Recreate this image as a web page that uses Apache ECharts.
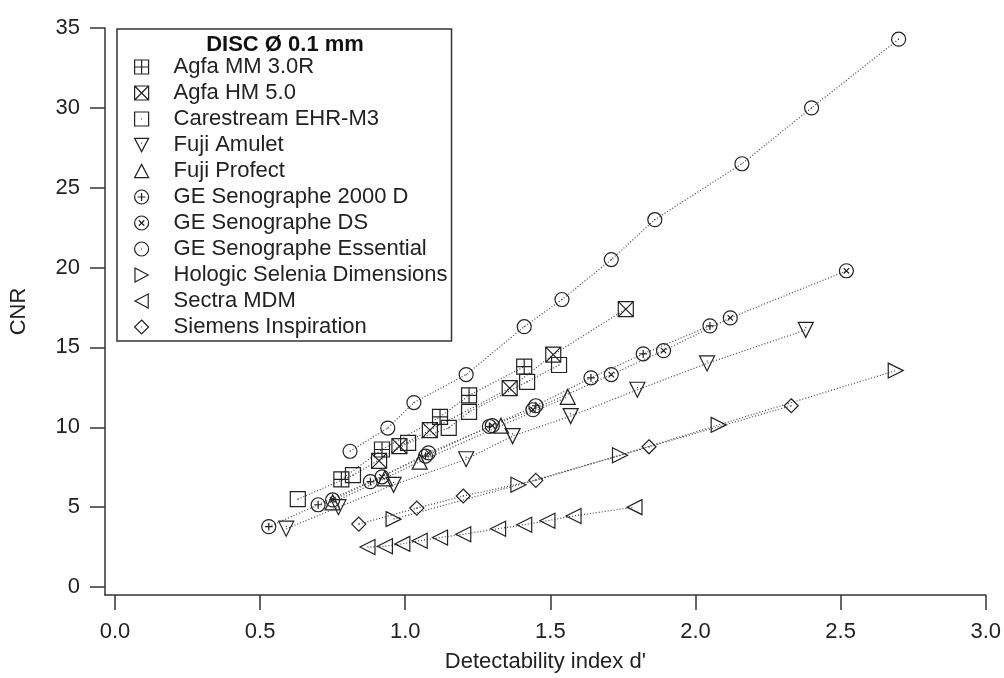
<!DOCTYPE html>
<html>
<head>
<meta charset="utf-8">
<title>CNR vs detectability index</title>
<script src="https://cdn.jsdelivr.net/npm/echarts@6/dist/echarts.min.js"></script>
<style>
  html, body { margin: 0; padding: 0; background: #fff; }
  #main { width: 1004px; height: 678px; }
</style>
</head>
<body>
<div id="main"></div>
<script>
// values, pairs of [d', CNR]
var agfaMM      = [[0.78, 6.74], [0.92, 8.61], [1.12, 10.65], [1.22, 12.0], [1.41, 13.8]];
var agfaHM      = [[0.91, 7.9], [0.98, 8.82], [1.085, 9.82], [1.36, 12.45], [1.51, 14.55], [1.76, 17.4]];
var carestream  = [[0.63, 5.5], [0.82, 7.0], [1.01, 9.03], [1.15, 9.96], [1.22, 10.96], [1.42, 12.85], [1.53, 13.9]];
var fujiAmulet  = [[0.59, 3.65], [0.77, 5.0], [0.96, 6.4], [1.21, 8.0], [1.37, 9.45], [1.57, 10.7], [1.80, 12.35], [2.04, 14.0], [2.38, 16.1]];
var fujiProfect = [[0.75, 5.3], [0.93, 6.8], [1.05, 7.85], [1.33, 10.1], [1.56, 11.9]];
var ge2000d     = [[0.53, 3.78], [0.70, 5.15], [0.88, 6.6], [1.07, 8.2], [1.29, 10.05], [1.45, 11.35], [1.64, 13.1], [1.82, 14.6], [2.05, 16.35]];
var geDS        = [[0.75, 5.45], [0.92, 6.9], [1.08, 8.4], [1.30, 10.1], [1.44, 11.1], [1.71, 13.3], [1.89, 14.8], [2.12, 16.85], [2.52, 19.8]];
var geEss       = [[0.81, 8.5], [0.94, 9.95], [1.03, 11.55], [1.21, 13.3], [1.41, 16.3], [1.54, 18.0], [1.71, 20.5], [1.86, 23.0], [2.16, 26.5], [2.40, 30.0], [2.70, 34.3]];
var hologic     = [[0.96, 4.25], [1.39, 6.4], [1.74, 8.25], [2.08, 10.15], [2.69, 13.55]];
var sectra      = [[0.87, 2.5], [0.93, 2.55], [0.99, 2.7], [1.05, 2.9], [1.12, 3.1], [1.20, 3.3], [1.32, 3.65], [1.41, 3.9], [1.49, 4.15], [1.58, 4.45], [1.79, 5.0]];
var siemens     = [[0.84, 3.94], [1.04, 4.94], [1.20, 5.7], [1.45, 6.68], [1.84, 8.78], [2.33, 11.35]];

var xTicks = [0, 0.5, 1.0, 1.5, 2.0, 2.5, 3.0];
var yTicks = [0, 5, 10, 15, 20, 25, 30, 35];

var FONT = '"Liberation Sans", Arial, sans-serif';

// hollow marker shapes
var CIRC = 'M1,10A9,9 0 1 1 19,10A9,9 0 1 1 1,10Z';
var BOX = 'M1,1H19V19H1Z';
var sym = {
    boxPlus:  'path://' + BOX + ' M10,1V19 M1,10H19',
    boxX:     'path://' + BOX + ' M1,1L19,19 M19,1L1,19',
    boxDot:   'path://' + BOX + ' M9.4,10H10.6',
    triDown:  'path://M1,2H19L10,19Z M9.4,8H10.6',
    triUp:    'path://M10,1L19,18H1Z',
    circPlus: 'path://' + CIRC + ' M10,5V15 M5,10H15',
    circX:    'path://' + CIRC + ' M6.5,6.5L13.5,13.5 M13.5,6.5L6.5,13.5',
    circDot:  'path://' + CIRC + ' M9.4,10H10.6',
    triRight: 'path://M2,1L19,10L2,19Z',
    triLeft:  'path://M18,1L1,10L18,19Z',
    diamond:  'path://M10,1L19,10L10,19L1,10Z M9.4,10H10.6'
};

var devices = [
    ['Agfa MM 3.0R', agfaMM, sym.boxPlus, 15],
    ['Agfa HM 5.0', agfaHM, sym.boxX, 15],
    ['Carestream EHR-M3', carestream, sym.boxDot, 15],
    ['Fuji Amulet', fujiAmulet, sym.triDown, 15],
    ['Fuji Profect', fujiProfect, sym.triUp, 15],
    ['GE Senographe 2000 D', ge2000d, sym.circPlus, 14],
    ['GE Senographe DS', geDS, sym.circX, 14],
    ['GE Senographe Essential', geEss, sym.circDot, 14],
    ['Hologic Selenia Dimensions', hologic, sym.triRight, 15],
    ['Sectra MDM', sectra, sym.triLeft, 15],
    ['Siemens Inspiration', siemens, sym.diamond, 14]
];

var series = devices.map(function (d) {
    return {
        name: d[0],
        type: 'line',
        data: d[1],
        symbol: d[2],
        symbolSize: d[3],
        showAllSymbol: true,
        silent: true,
        animation: false,
        lineStyle: { color: '#444', width: 1.2, type: [1, 2] },
        itemStyle: { color: 'rgba(255,255,255,0)', borderColor: '#222', borderWidth: 1.2 }
    };
});

var chart = echarts.init(document.getElementById('main'));
chart.setOption({
    backgroundColor: '#fff',
    animation: false,
    textStyle: { fontFamily: FONT },
    title: {
        text: 'DISC \u00D8 0.1 mm',
        left: 285, top: 34,
        textAlign: 'center',
        padding: 0,
        textStyle: { fontFamily: FONT, fontWeight: 'bold', fontSize: 22, color: '#111' }
    },
    legend: {
        orient: 'vertical',
        left: 117, top: 29,
        padding: [27, 4, 3, 17],
        itemWidth: 14, itemHeight: 14, itemGap: 4,
        borderColor: '#333', borderWidth: 1.5,
        selectedMode: false,
        textStyle: { fontFamily: FONT, fontSize: 22, color: '#222', padding: [0, 0, 0, 20] },
        itemStyle: { color: 'rgba(255,255,255,0)', borderColor: '#222', borderWidth: 1.2 },
        data: devices.map(function (d) { return { name: d[0], icon: d[2] }; })
    },
    grid: { left: 103, right: 17, top: 28, bottom: 80, containLabel: false },
    xAxis: {
        type: 'value',
        min: -0.0343, max: 3.0,
        name: "Detectability index d'",
        nameLocation: 'middle',
        nameGap: 56,
        nameTextStyle: { fontFamily: FONT, fontSize: 22, color: '#222' },
        splitLine: { show: false },
        axisLine: { onZero: false, lineStyle: { color: '#333', width: 1.5 } },
        axisTick: { length: 15, lineStyle: { color: '#333', width: 1.5 }, customValues: xTicks },
        axisLabel: {
            customValues: xTicks, margin: 26, fontSize: 22, color: '#222', fontFamily: FONT,
            formatter: function (v) { return v.toFixed(1); }
        }
    },
    yAxis: {
        type: 'value',
        min: -0.5, max: 35,
        name: 'CNR',
        nameLocation: 'middle',
        nameGap: 75,
        nameTextStyle: { fontFamily: FONT, fontSize: 22, color: '#222' },
        splitLine: { show: false },
        axisLine: { onZero: false, lineStyle: { color: '#333', width: 1.5 } },
        axisTick: { length: 15, lineStyle: { color: '#333', width: 1.5 }, customValues: yTicks },
        axisLabel: {
            customValues: yTicks, margin: 25, fontSize: 22, color: '#222', fontFamily: FONT,
            formatter: function (v) { return String(v); }
        }
    },
    series: series
});
</script>
</body>
</html>
